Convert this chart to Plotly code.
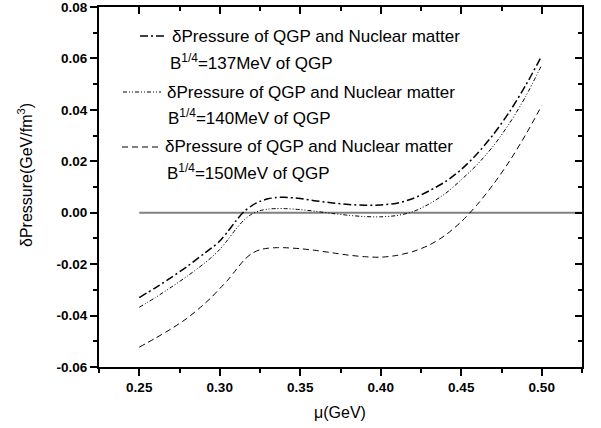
import plotly.graph_objects as go

# Chemical potential grid (GeV)
mu = [0.25, 0.26, 0.27, 0.28, 0.29, 0.295, 0.30, 0.305, 0.31, 0.315, 0.32, 0.325,
      0.33, 0.335, 0.34, 0.35, 0.36, 0.37, 0.38, 0.39, 0.40, 0.41, 0.42, 0.43,
      0.44, 0.45, 0.46, 0.47, 0.48, 0.49, 0.50]

# Pressure difference QGP - nuclear matter (GeV/fm^3) for three bag constants
dp_137 = [-0.0330, -0.0292, -0.0251, -0.0208, -0.0160, -0.0137, -0.0110, -0.0073,
          -0.0032, 0.0004, 0.0028, 0.0044, 0.0054, 0.0059, 0.0060, 0.0055, 0.0046,
          0.0038, 0.0032, 0.0029, 0.0030, 0.0037, 0.0055, 0.0085, 0.0120, 0.0168,
          0.0230, 0.0305, 0.0393, 0.0495, 0.0610]
dp_140 = [-0.0368, -0.0330, -0.0289, -0.0246, -0.0199, -0.0173, -0.0143, -0.0105,
          -0.0064, -0.0029, -0.0005, 0.0008, 0.0014, 0.0016, 0.0016, 0.0012, 0.0005,
          -0.0003, -0.0010, -0.0015, -0.0016, -0.0011, 0.0004, 0.0034, 0.0074, 0.0128,
          0.0188, 0.0260, 0.0348, 0.0452, 0.0575]
dp_150 = [-0.0523, -0.0488, -0.0451, -0.0409, -0.0357, -0.0328, -0.0295, -0.0262,
          -0.0223, -0.0185, -0.0158, -0.0144, -0.0138, -0.0136, -0.0136, -0.0140,
          -0.0147, -0.0156, -0.0165, -0.0171, -0.0173, -0.0166, -0.0151, -0.0126,
          -0.0088, -0.0035, 0.0032, 0.0111, 0.0201, 0.0303, 0.0417]

zero_x = [0.25, 0.525]
zero_y = [0.0, 0.0]

legend_line1 = "δPressure of QGP and Nuclear matter"
legend_line2 = ["B<sup>1/4</sup>=137MeV of QGP",
                "B<sup>1/4</sup>=140MeV of QGP",
                "B<sup>1/4</sup>=150MeV of QGP"]

x_ticks = [0.25, 0.30, 0.35, 0.40, 0.45, 0.50]
x_ticktext = ["0.25", "0.30", "0.35", "0.40", "0.45", "0.50"]
y_ticks = [-0.06, -0.04, -0.02, 0.00, 0.02, 0.04, 0.06, 0.08]
y_ticktext = ["-0.06", "-0.04", "-0.02", "0.00", "0.02", "0.04", "0.06", "0.08"]

X_RANGE = [0.225, 0.525]
Y_RANGE = [-0.0600001, 0.0800001]

FONT = "Arial, Liberation Sans, sans-serif"
W, H = 601, 428
ML, MR, MT, MB = 99, 19, 7, 61
PW, PH = W - ML - MR, H - MT - MB

DASH_137 = "8px,3px,2px,3px"
DASH_140 = "4px,2px,1px,2px,1px,2px"
DASH_150 = "6px,4px"


def px_x(p):
    return (p - ML) / PW


def px_y(p):
    return 1 - (p - MT) / PH


fig = go.Figure()

fig.add_trace(go.Scatter(x=zero_x, y=zero_y, mode="lines",
                         line=dict(color="#808080", width=2),
                         hoverinfo="skip", showlegend=False))

for ys, dash, w in [(dp_137, DASH_137, 1.5), (dp_140, DASH_140, 1.0),
                    (dp_150, DASH_150, 1.0)]:
    fig.add_trace(go.Scatter(x=mu, y=ys, mode="lines",
                             line=dict(color="black", width=w, dash=dash,
                                       shape="spline", smoothing=0.8),
                             showlegend=False))

# dummy traces so that the mirrored top / right axes are drawn
fig.add_trace(go.Scatter(x=[None], y=[None], xaxis="x2", yaxis="y",
                         showlegend=False, hoverinfo="skip"))
fig.add_trace(go.Scatter(x=[None], y=[None], xaxis="x", yaxis="y2",
                         showlegend=False, hoverinfo="skip"))

tickfont = dict(family=FONT, size=13.5, color="black", weight="bold")

fig.update_layout(
    width=W, height=H,
    margin=dict(l=ML, r=MR, t=MT, b=MB, autoexpand=False),
    paper_bgcolor="white", plot_bgcolor="white",
    showlegend=False,
    xaxis=dict(range=X_RANGE, tickvals=x_ticks, ticktext=x_ticktext,
               ticks="outside", ticklen=7, tickwidth=1.5, tickcolor="black",
               minor=dict(ticks="outside", ticklen=4, tickwidth=1.5,
                          dtick=0.025, tickcolor="black"),
               showline=True, linecolor="black", linewidth=2,
               showgrid=False, zeroline=False, tickfont=tickfont,
               ticklabeloverflow="allow", automargin=False),
    yaxis=dict(range=Y_RANGE, tickvals=y_ticks, ticktext=y_ticktext,
               ticks="outside", ticklen=7, tickwidth=1.5, tickcolor="black",
               minor=dict(ticks="outside", ticklen=4, tickwidth=1.5,
                          dtick=0.01, tickcolor="black"),
               showline=True, linecolor="black", linewidth=2,
               showgrid=False, zeroline=False, tickfont=tickfont,
               ticklabeloverflow="allow", automargin=False),
    xaxis2=dict(range=X_RANGE, overlaying="x", side="top", anchor="y",
                tickvals=x_ticks, showticklabels=False,
                ticks="inside", ticklen=7, tickwidth=1.5, tickcolor="black",
                minor=dict(ticks="inside", ticklen=4, tickwidth=1.5,
                           dtick=0.025, tickcolor="black"),
                showline=True, linecolor="black", linewidth=1.5,
                showgrid=False, zeroline=False, automargin=False),
    yaxis2=dict(range=Y_RANGE, overlaying="y", side="right", anchor="x",
                tickvals=y_ticks, showticklabels=False,
                ticks="inside", ticklen=7, tickwidth=1.5, tickcolor="black",
                minor=dict(ticks="inside", ticklen=4, tickwidth=1.5,
                           dtick=0.01, tickcolor="black"),
                showline=True, linecolor="black", linewidth=1.5,
                showgrid=False, zeroline=False, automargin=False),
)

# axis titles
fig.add_annotation(text="μ(GeV)", xref="paper", yref="paper",
                   x=px_x(340), y=px_y(412), xanchor="center", yanchor="middle",
                   showarrow=False, font=dict(family=FONT, size=16, color="black"))
fig.add_annotation(text="δPressure(GeV/fm<sup>3</sup>)", xref="paper", yref="paper",
                   x=px_x(25), y=px_y(175), xanchor="center", yanchor="middle",
                   textangle=-90, showarrow=False,
                   font=dict(family=FONT, size=16, color="black"))

# legend block: sample line + two text lines per entry
legend_rows = [
    dict(sx0=140, sx1=167, sy=36, tx1=170, ty1=36, tx2=168, ty2=62, dash=DASH_137, w=1.5),
    dict(sx0=123, sx1=161, sy=92, tx1=165, ty1=92, tx2=166, ty2=117, dash=DASH_140, w=1.0),
    dict(sx0=122, sx1=160, sy=147, tx1=163, ty1=147, tx2=165, ty2=172, dash=DASH_150, w=1.0),
]
for row, line2 in zip(legend_rows, legend_line2):
    fig.add_shape(type="line", xref="paper", yref="paper",
                  x0=px_x(row["sx0"]), x1=px_x(row["sx1"]),
                  y0=px_y(row["sy"]), y1=px_y(row["sy"]),
                  line=dict(color="black", width=row["w"], dash=row["dash"]))
    fig.add_annotation(text=legend_line1, xref="paper", yref="paper",
                       x=px_x(row["tx1"]), y=px_y(row["ty1"]),
                       xanchor="left", yanchor="middle", showarrow=False,
                       font=dict(family=FONT, size=17, color="black"))
    fig.add_annotation(text=line2, xref="paper", yref="paper",
                       x=px_x(row["tx2"]), y=px_y(row["ty2"]),
                       xanchor="left", yanchor="middle", showarrow=False,
                       font=dict(family=FONT, size=17, color="black"))

fig.write_html("out.html")
